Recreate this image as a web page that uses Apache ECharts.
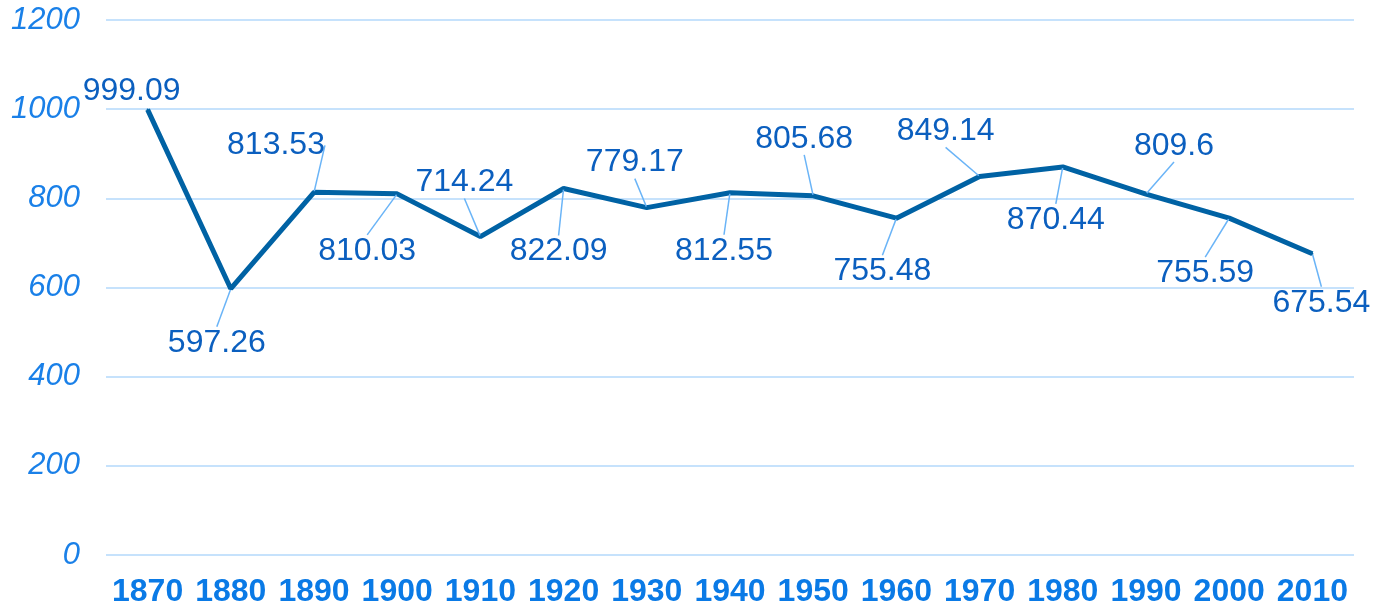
<!DOCTYPE html>
<html>
<head>
<meta charset="utf-8">
<style>
html,body{margin:0;padding:0;background:#fff;}
#chart{width:1379px;height:607px;}
</style>
<script src="https://cdn.jsdelivr.net/npm/echarts@6/dist/echarts.min.js"></script>
</head>
<body>
<div id="chart"></div>
<script>
const categories = ['1870','1880','1890','1900','1910','1920','1930','1940','1950','1960','1970','1980','1990','2000','2010'];
const values = [999.09, 597.26, 813.53, 810.03, 714.24, 822.09, 779.17, 812.55, 805.68, 755.48, 849.14, 870.44, 809.6, 755.59, 675.54];
const yTicks = [0, 200, 400, 600, 800, 1000, 1200];

// label offsets (pixels from point to label centre) — styling only
const labelOffsets = [[-16,-18],[-14,54],[-38,-47],[-30,57],[-16,-54],[-5,63],[-12,-45],[-6,58],[-9,-57],[-14,53],[-34,-45],[-7,53],[28,-48],[-24,55],[9,49]];

const chart = echarts.init(document.getElementById('chart'));
chart.setOption({
  animation: false,
  grid: {left: 106, right: 25, top: 20, bottom: 52, containLabel: false, outerBoundsMode: 'none'},
  xAxis: {
    type: 'category',
    data: categories,
    boundaryGap: true,
    axisLine: {show: false},
    axisTick: {show: false},
    axisLabel: {color: '#0a7ae6', fontSize: 32, fontWeight: 'bold', fontFamily: 'Liberation Sans', margin: 21, interval: 0}
  },
  yAxis: {
    type: 'value',
    min: yTicks[0], max: yTicks[yTicks.length - 1], interval: yTicks[1] - yTicks[0],
    axisLine: {show: false},
    axisTick: {show: false},
    splitLine: {lineStyle: {color: '#c6e2fc', width: 2}},
    axisLabel: {color: '#1a80e8', fontSize: 31, fontStyle: 'italic', fontFamily: 'Liberation Sans', margin: 26, formatter: v => String(v)}
  },
  series: [{
    type: 'line',
    data: values.map((v, i) => i === 0 ? {value: v, labelLine: {show: false}} : v),
    symbol: 'circle',
    symbolSize: 2,
    showSymbol: true,
    itemStyle: {color: '#0062a4'},
    lineStyle: {color: '#0062a4', width: 5},
    label: {
      show: true,
      position: 'inside',
      color: '#0b5fbf',
      fontSize: 32,
      fontFamily: 'Liberation Sans',
      formatter: p => String(p.value)
    },
    labelLine: {show: true, lineStyle: {color: '#6ab4f7', width: 1.5}},
    labelLayout: function (params) {
      const o = labelOffsets[params.dataIndex];
      return {dx: o[0], dy: o[1]};
    }
  }]
});
</script>
</body>
</html>
